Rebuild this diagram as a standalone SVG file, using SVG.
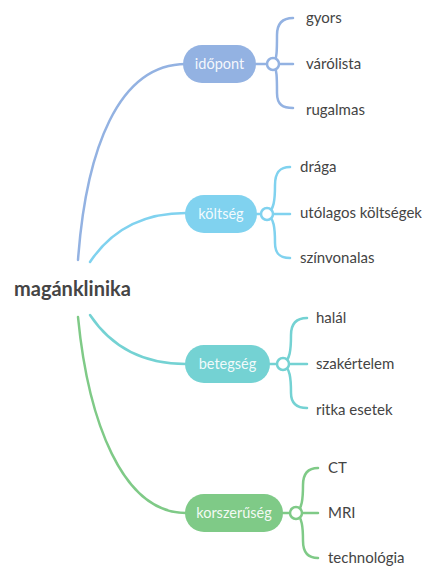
<svg xmlns="http://www.w3.org/2000/svg" width="422" height="566" viewBox="0 0 422 566">
<style>
.bg{fill:#ffffff}
.c{fill:none;stroke-width:2.5;stroke-linecap:round}
.dot{fill:#ffffff;stroke-width:2.5}
.lbl{font-family:Lato,"Open Sans","DejaVu Sans",sans-serif;font-size:15px;fill:#444444}
.pt{font-family:Lato,"Open Sans","DejaVu Sans",sans-serif;font-size:14.5px;fill:#ffffff;fill-opacity:0.92;text-anchor:middle}
.root{font-family:Lato,"Open Sans","DejaVu Sans",sans-serif;font-size:20px;font-weight:bold;fill:#454545}
.b1{stroke:#93b2e2}.f1{fill:#93b2e2}
.b2{stroke:#80d2ef}.f2{fill:#80d2ef}
.b3{stroke:#74d2d3}.f3{fill:#74d2d3}
.b4{stroke:#7fca87}.f4{fill:#7fca87}
</style>
<rect class="bg" x="0" y="0" width="422" height="566"/>
<g id="connectors">
  <path class="c b1" d="M78,260 C86,150 118,64 186,64"/>
  <path class="c b2" d="M90,262 C110,232 140,213 186,213"/>
  <path class="c b3" d="M90,315 C110,345 140,364 186,364"/>
  <path class="c b4" d="M78,317 C88,420 122,513 186,513"/>
  <path class="c b1" d="M256,64 L293,64 M273,64 C277,60 277,50 277,35 C277,23 283,18 293,18 M273,64 C277,68 277,78 277,93 C277,105 283,108 293,108"/>
  <path class="c b2" d="M257,214 L290,214 M267,214 C274,210 275,200 275,185 C275,172 280,167 290,167 M267,214 C274,218 275,228 275,243 C275,254 280,258 290,258"/>
  <path class="c b3" d="M270,364 L307,364 M283,364 C290,360 291,350 291,335 C291,323 297,318 307,318 M283,364 C290,368 291,378 291,393 C291,404 297,408 307,408"/>
  <path class="c b4" d="M283,513 L318,513 M296,513 C302,509 303,499 303,485 C303,473 308,468 318,468 M296,513 C302,517 303,527 303,541 C303,553 308,558 318,558"/>
</g>
<g id="root"><text class="root" x="14" y="296">magánklinika</text></g>
<g id="idopont">
  <rect class="f1" x="183" y="45" width="73" height="38" rx="19"/>
  <text class="pt" x="219.5" y="69">időpont</text>
  <circle class="dot b1" cx="273" cy="64" r="6"/>
</g>
<g id="koltseg">
  <rect class="f2" x="185" y="195" width="72" height="38" rx="19"/>
  <text class="pt" x="221" y="219">költség</text>
  <circle class="dot b2" cx="267" cy="214" r="6"/>
</g>
<g id="betegseg">
  <rect class="f3" x="185" y="345" width="85" height="38" rx="19"/>
  <text class="pt" x="227.5" y="369">betegség</text>
  <circle class="dot b3" cx="283" cy="364" r="6"/>
</g>
<g id="korszeruseg">
  <rect class="f4" x="185" y="494" width="98" height="38" rx="19"/>
  <text class="pt" x="234" y="518">korszerűség</text>
  <circle class="dot b4" cx="296" cy="513" r="6"/>
</g>
<g id="gyors"><text class="lbl" x="306" y="23">gyors</text></g>
<g id="varolista"><text class="lbl" x="306" y="69">várólista</text></g>
<g id="rugalmas"><text class="lbl" x="306" y="115">rugalmas</text></g>
<g id="draga"><text class="lbl" x="300" y="172">drága</text></g>
<g id="utolagos"><text class="lbl" x="300" y="218">utólagos költségek</text></g>
<g id="szinvonalas"><text class="lbl" x="300" y="263">színvonalas</text></g>
<g id="halal"><text class="lbl" x="316" y="323">halál</text></g>
<g id="szakertelem"><text class="lbl" x="316" y="369">szakértelem</text></g>
<g id="ritka"><text class="lbl" x="316" y="415">ritka esetek</text></g>
<g id="ct"><text class="lbl" x="328" y="473">CT</text></g>
<g id="mri"><text class="lbl" x="328" y="518">MRI</text></g>
<g id="technologia"><text class="lbl" x="328" y="563">technológia</text></g>
</svg>
